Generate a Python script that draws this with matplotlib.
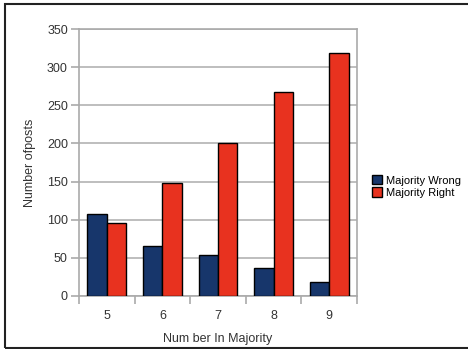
import numpy as np
import matplotlib.pyplot as plt
from matplotlib.patches import Rectangle

# data
categories = ['5', '6', '7', '8', '9']
majority_wrong = [107, 66, 54, 37, 18]
majority_right = [96, 148, 200, 268, 318]

plt.rcParams['font.family'] = ['Liberation Sans', 'DejaVu Sans']

fig = plt.figure(figsize=(4.68, 3.49), dpi=100)
ax = fig.add_axes([79/468, 1 - 296/349, (357-79)/468, (296-29)/349])

x = np.arange(len(categories))
w = 0.35
ax.bar(x - w/2, majority_wrong, w, color='#17366b', edgecolor='black', linewidth=1.0,
       label='Majority Wrong', zorder=3)
ax.bar(x + w/2, majority_right, w, color='#e8321f', edgecolor='black', linewidth=1.0,
       label='Majority Right', zorder=3)

ax.set_xlim(-0.5, len(categories) - 0.5)
ax.set_ylim(0, 350)
ax.set_yticks(range(0, 351, 50))
ax.set_xticks(x)
ax.set_xticklabels(categories)
ax.set_xticks(np.arange(-0.5, len(categories)), minor=True)
ax.tick_params(axis='x', which='major', length=0, pad=10, labelsize=9, colors='#333333')
ax.tick_params(axis='x', which='minor', length=6, width=1.2, color='#aaaaaa')
ax.tick_params(axis='y', length=6, width=1.2, color='#aaaaaa', labelsize=9, labelcolor='#333333', pad=2)
ax.grid(axis='y', color='#b3b3b3', linewidth=1.2, zorder=0)
for s in ax.spines.values():
    s.set_color('#aaaaaa')
    s.set_linewidth(1.2)

ax.set_ylabel('Number ofposts', fontsize=9, color='#333333', labelpad=8)
ax.set_xlabel('Num ber In Majority', fontsize=9, color='#333333', labelpad=8)

ax.legend(loc='center left', bbox_to_anchor=(1.055, 0.41), frameon=False, fontsize=8,
          handlelength=0.9, handleheight=0.9, handletextpad=0.35, labelspacing=0.15,
          borderaxespad=0, borderpad=0)

# outer frame
fig.patches.append(Rectangle((5/468, 1.5/349), 470/468, 344/349, transform=fig.transFigure,
                             fill=False, edgecolor='#222222', linewidth=1.5))

fig.savefig('out.png', dpi=100)
